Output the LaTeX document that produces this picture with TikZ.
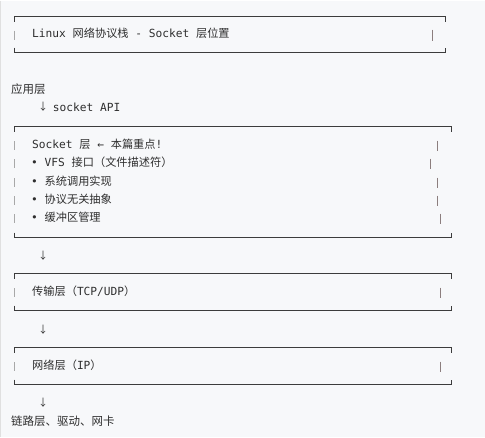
\documentclass[tikz,border=0pt]{standalone}
\usepackage{fontspec}
\setmainfont{Noto Sans CJK SC}
\newfontfamily\cjk{Noto Sans CJK SC}
\newfontfamily\mn{DejaVu Sans Mono}
\definecolor{bg}{HTML}{F7F8FA}
\definecolor{ln}{HTML}{3C3C3C}
\definecolor{lbar}{HTML}{A8A8A8}
\definecolor{rbar}{HTML}{8C7E7E}
\definecolor{tx}{HTML}{2E2E2E}
\begin{document}
\begin{tikzpicture}[x=1pt,y=-1pt,
  txt/.style={anchor=west, inner sep=0pt, text=tx, text height=8.5pt, text depth=2.5pt, font=\fontsize{11.2}{13}\selectfont},
  boxline/.style={draw=ln, line width=0.8pt},
  lb/.style={draw=lbar, line width=0.8pt},
  rb/.style={draw=rbar, line width=0.8pt}]
\fill[bg] (0,0) rectangle (485,436);
\draw[draw=black!12, line width=1.2pt] (0.6,0) -- (0.6,436);
\useasboundingbox (0,0) rectangle (485,436);

% ---- Box 1
\draw[boxline] (14,21) -- (14,16) -- (445,16) -- (445,21);
\draw[boxline] (14,47) -- (14,52) -- (445,52) -- (445,47);
\draw[lb] (14,30) -- (14,39);
\draw[rb] (432,29) -- (432,40);
\node[txt] (t1) at (32,34) {{\mn Linux }{\cjk 网络协议栈}{\mn{} - Socket }{\cjk 层位置}};

% ---- outside label
\node[txt, font=\fontsize{11.5}{13}\selectfont] (app) at (11,90) {应用层};
\node[txt, font=\fontsize{10}{12}\selectfont] (a0) at (38,107) {↓};
\node[txt] (api) at (52.7,108) {\mn socket API};

% ---- Box 2
\draw[boxline] (14,131) -- (14,126) -- (451,126) -- (451,131);
\draw[boxline] (14,232) -- (14,237) -- (451,237) -- (451,232);
\foreach \yy/\rx in {145/437,163/430,182/437,200/437,218/440}{
  \draw[lb] (14,\yy-4.5) -- (14,\yy+4.5);
  \draw[rb] (\rx,\yy-5) -- (\rx,\yy+5);
}
\node[txt] (s1) at (32,145) {{\mn Socket }{\cjk 层}{\mn{} ← }{\cjk 本篇重点}{\mn !}};
\node[txt] (s2) at (31,163) {{\mn • VFS  }{\cjk 接口（文件描述符）}};
\node[txt] (s3) at (31,182) {{\mn • }{\cjk 系统调用实现}};
\node[txt] (s4) at (31,200) {{\mn • }{\cjk 协议无关抽象}};
\node[txt] (s5) at (31,218) {{\mn • }{\cjk 缓冲区管理}};

\node[txt, font=\fontsize{10}{12}\selectfont] (a1) at (38,256) {↓};

% ---- Box 3
\draw[boxline] (14,278) -- (14,273) -- (451,273) -- (451,278);
\draw[boxline] (14,305) -- (14,310) -- (451,310) -- (451,305);
\draw[lb] (14,287.5) -- (14,296.5);
\draw[rb] (440,287) -- (440,297);
\node[txt] (t3) at (32,292) {{\cjk 传输层（}{\mn TCP/UDP}{\cjk ）}};

\node[txt, font=\fontsize{10}{12}\selectfont] (a2) at (38,330) {↓};

% ---- Box 4
\draw[boxline] (14,352) -- (14,347) -- (451,347) -- (451,352);
\draw[boxline] (14,379) -- (14,384) -- (451,384) -- (451,379);
\draw[lb] (14,361.5) -- (14,370.5);
\draw[rb] (440,361) -- (440,371);
\node[txt] (t4) at (32,366) {{\cjk 网络层（}{\mn IP}{\cjk ）}};

\node[txt, font=\fontsize{10}{12}\selectfont] (a3) at (38,403) {↓};
\node[txt, font=\fontsize{11.5}{13}\selectfont] (link) at (11,422) {链路层、驱动、网卡};
\end{tikzpicture}
\end{document}
